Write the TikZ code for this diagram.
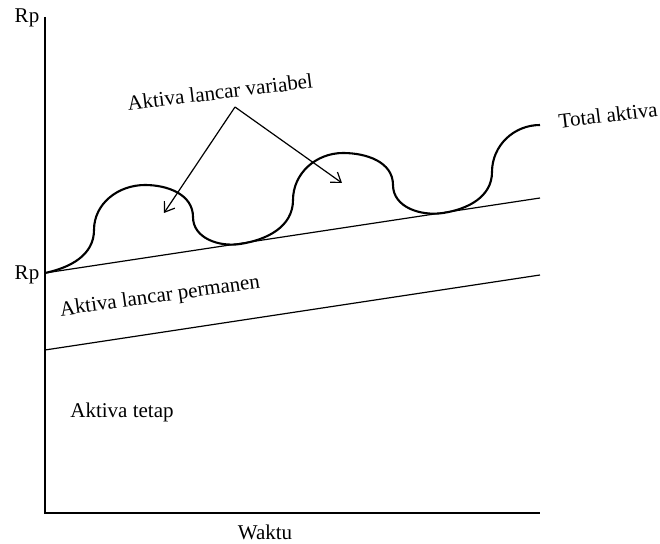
\documentclass[tikz,border=0pt]{standalone}
\usepackage{fontspec}
\setmainfont{Liberation Serif}
\usetikzlibrary{arrows.meta}

\tikzset{
  lbl/.style={font=\fontsize{21}{25}\selectfont, inner sep=1pt},
  axisline/.style={line width=1.6pt},
  aktivaline/.style={line width=1.2pt},
  totalcurve/.style={line width=2.1pt},
  pointer/.style={line width=1.2pt, -{Straight Barb[angle=70:11pt]}}
}

\begin{document}
\begin{tikzpicture}[x=1pt,y=1pt]
\useasboundingbox (0,0) rectangle (660,543);
% axes
\coordinate (O) at (45,30);
\coordinate (yTop) at (45,526);
\coordinate (xEnd) at (540,30);
\draw[axisline] (yTop) -- (O) -- (xEnd);
\node[lbl] (rpTop) at (27,525) {Rp};
\node[lbl] (waktu) at (265,11) {Waktu};
% permanen and tetap lines
\coordinate (upA) at (45,270);
\coordinate (upB) at (540,345);
\coordinate (loA) at (45,193);
\coordinate (loB) at (540,268);
\draw[aktivaline] (upA) -- (upB);
\draw[aktivaline] (loA) -- (loB);
\node[lbl] (rpMid) at (27,268) {Rp};
\node[lbl,rotate=8] (permanen) at (160,246) {Aktiva lancar permanen};
\node[lbl] (tetap) at (122,131) {Aktiva tetap};
% total aktiva curve
\coordinate (c1) at (94,313);
\coordinate (c2) at (145,358);
\coordinate (c3) at (193,326);
\coordinate (c4) at (240,299);
\coordinate (c5) at (293,343);
\coordinate (c6) at (343,390);
\coordinate (c7) at (393,358);
\coordinate (c8) at (443,330);
\coordinate (c9) at (492,371);
\coordinate (c10) at (540,418);
\draw[totalcurve] (upA) to[out=12,in=-90] (c1) to[out=90,in=180] (c2)
  to[out=0,in=90] (c3) to[out=-90,in=188.6] (c4)
  to[out=8.6,in=-90] (c5) to[out=90,in=180] (c6)
  to[out=0,in=90] (c7) to[out=-90,in=188.6] (c8)
  to[out=8.6,in=-90] (c9) to[out=90,in=180] (c10);
\node[lbl,rotate=7] (total) at (608,428) {Total aktiva};
% variabel pointers
\node[lbl,rotate=7] (variabel) at (220,451) {Aktiva lancar variabel};
\coordinate (apex) at (235,436);
\coordinate (tipL) at (164,330);
\coordinate (tipR) at (342,360);
\draw[pointer] (apex) -- (tipL);
\draw[pointer] (apex) -- (tipR);
\end{tikzpicture}
\end{document}
